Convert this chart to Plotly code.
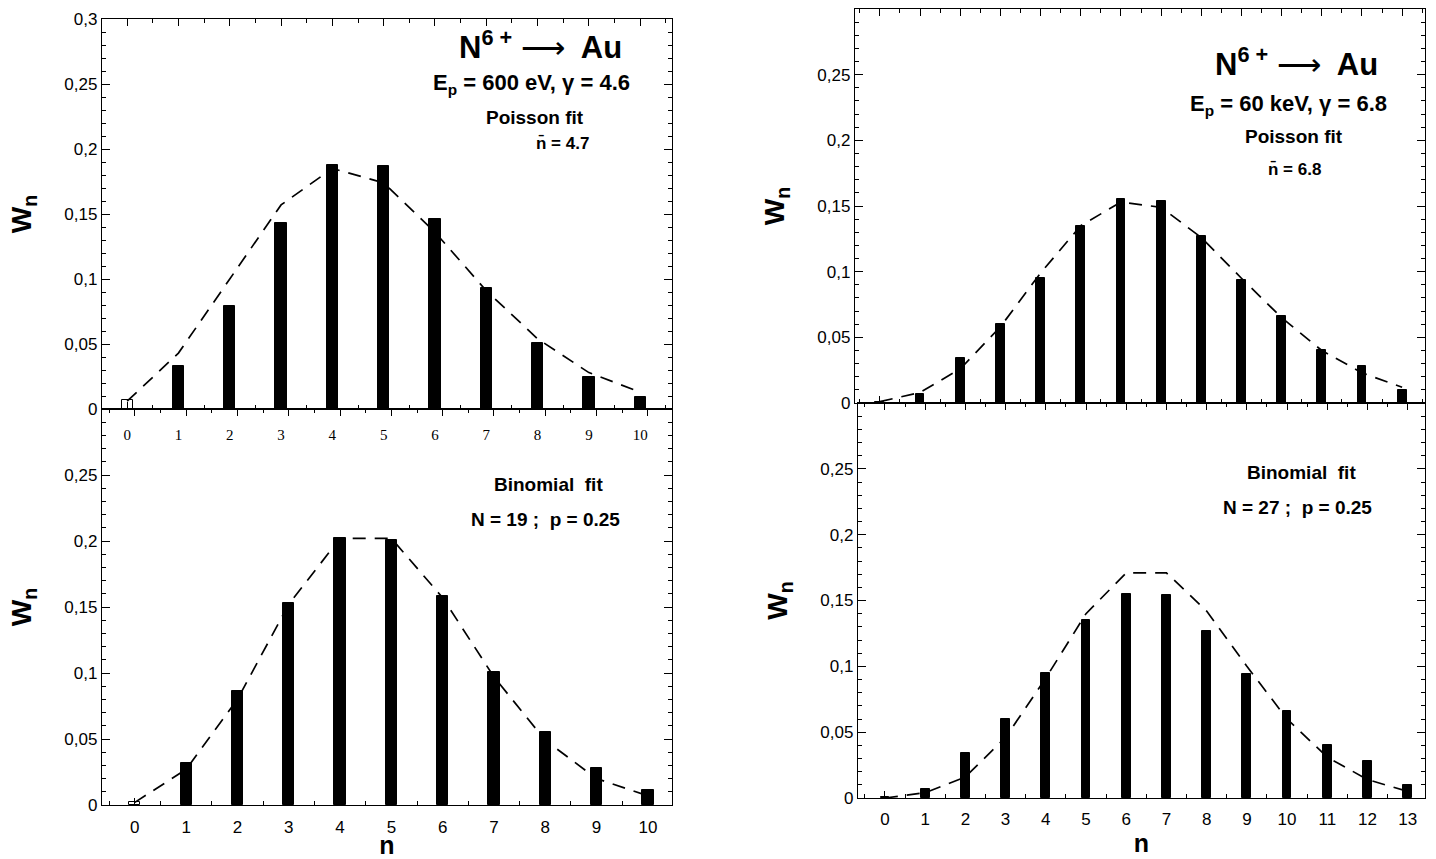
import plotly.graph_objects as go

W, H = 1436, 859

# ---------------- data ----------------
n_left = list(range(0, 11))
n_right = list(range(0, 14))

# Left column: N6+ -> Au, Ep = 600 eV
left_top_bars = [0.007, 0.033, 0.079, 0.143, 0.188, 0.187, 0.146, 0.093, 0.051, 0.025, 0.009]
left_top_fit = [0.006, 0.043, 0.100, 0.157, 0.185, 0.174, 0.136, 0.091, 0.054, 0.028, 0.013]

left_bot_bars = [0.002, 0.032, 0.086, 0.153, 0.202, 0.201, 0.158, 0.101, 0.055, 0.028, 0.011]
left_bot_fit = [0.002, 0.027, 0.080, 0.152, 0.202, 0.202, 0.157, 0.097, 0.049, 0.020, 0.007]

# Right column: N6+ -> Au, Ep = 60 keV
right_top_bars = [0.001, 0.007, 0.034, 0.060, 0.095, 0.135, 0.155, 0.154, 0.127, 0.094, 0.066, 0.040, 0.028, 0.010]
right_top_fit = [0.001, 0.008, 0.026, 0.058, 0.099, 0.135, 0.153, 0.149, 0.126, 0.095, 0.065, 0.040, 0.023, 0.012]

right_bot_bars = [0.001, 0.007, 0.034, 0.060, 0.095, 0.135, 0.155, 0.154, 0.127, 0.094, 0.066, 0.040, 0.028, 0.010]
right_bot_fit = [0.000, 0.004, 0.016, 0.046, 0.091, 0.140, 0.171, 0.171, 0.142, 0.100, 0.060, 0.031, 0.014, 0.005]

y_tickvals_full = [0, 0.05, 0.1, 0.15, 0.2, 0.25, 0.3]
y_ticktext_full = ["0", "0,05", "0,1", "0,15", "0,2", "0,25", "0,3"]
y_tickvals_short = [0, 0.05, 0.1, 0.15, 0.2, 0.25]
y_ticktext_short = ["0", "0,05", "0,1", "0,15", "0,2", "0,25"]

# ---------------- layout geometry (pixels) ----------------
def xd(a, b):
    return [a / W, b / W]

def yd(top, bottom):
    return [1 - bottom / H, 1 - top / H]

FONT = "Liberation Sans, Arial, sans-serif"

fig = go.Figure()

panels = [
    ("x", "y", n_left, left_top_bars, left_top_fit, True),
    ("x2", "y2", n_left, left_bot_bars, left_bot_fit, True),
    ("x3", "y3", n_right, right_top_bars, right_top_fit, False),
    ("x4", "y4", n_right, right_bot_bars, right_bot_fit, False),
]

for xa, ya, n, bars, fit, open_first in panels:
    fill = ["white" if (open_first and i == 0) else "black" for i in range(len(n))]
    fig.add_trace(go.Bar(
        x=n, y=bars, width=0.22, xaxis=xa, yaxis=ya,
        marker=dict(color=fill, line=dict(color="black", width=1)),
        showlegend=False,
    ))
    fig.add_trace(go.Scatter(
        x=n, y=fit, mode="lines", xaxis=xa, yaxis=ya,
        line=dict(color="black", width=1.7, dash="13px,9px"),
        showlegend=False,
    ))

common_x = dict(
    showline=True, linecolor="black", linewidth=1.3, mirror="ticks",
    ticks="inside", ticklen=7, tickcolor="black", tickwidth=1,
    dtick=1, tick0=0, showgrid=False, zeroline=False, automargin=False,
    minor=dict(ticks="inside", ticklen=4, dtick=0.5, tick0=0, tickcolor="black", showgrid=False),
)

def common_y(full):
    return dict(
        showline=True, linecolor="black", linewidth=1.3, mirror="ticks",
        ticks="inside", ticklen=8, tickcolor="black", tickwidth=1,
        range=[0, 0.3], automargin=False,
        tickvals=y_tickvals_full if full else y_tickvals_short,
        ticktext=y_ticktext_full if full else y_ticktext_short,
        showgrid=False, zeroline=False,
        tickfont=dict(family=FONT, size=17, color="black"),
        minor=dict(ticks="inside", ticklen=4, dtick=0.01, tick0=0, tickcolor="black", showgrid=False),
        title=dict(text="<b>W<sub>n</sub></b>", font=dict(family=FONT, size=28, color="black"), standoff=24),
    )

fig.update_layout(
    width=W, height=H,
    margin=dict(l=0, r=0, t=0, b=0, pad=0, autoexpand=False),
    paper_bgcolor="white", plot_bgcolor="rgba(0,0,0,0)",
    bargap=0,
    xaxis=dict(common_x, domain=xd(102, 672), range=[-0.49, 10.62], anchor="y",
               showticklabels=True, ticklabelstandoff=12,
               tickfont=dict(family="Liberation Serif, Times New Roman, serif", size=15, color="black")),
    yaxis=dict(common_y(True), domain=yd(19, 409), anchor="x"),
    xaxis2=dict(common_x, domain=xd(102, 672), range=[-0.64, 10.47], anchor="y2",
                ticklabelstandoff=6,
                tickfont=dict(family=FONT, size=17, color="black"),
                title=dict(text="<b>n</b>", font=dict(family=FONT, size=25, color="black"), standoff=8)),
    yaxis2=dict(common_y(False), domain=yd(409, 805), anchor="x2"),
    xaxis3=dict(common_x, domain=xd(855, 1425), range=[-0.62, 13.57], anchor="y3",
                showticklabels=False),
    yaxis3=dict(common_y(False), domain=yd(9, 403), anchor="x3"),
    xaxis4=dict(common_x, domain=xd(858, 1425), range=[-0.67, 13.43], anchor="y4",
                ticklabelstandoff=5,
                tickfont=dict(family=FONT, size=17, color="black"),
                title=dict(text="<b>n</b>", font=dict(family=FONT, size=25, color="black"), standoff=6)),
    yaxis4=dict(common_y(False), domain=yd(403, 798), anchor="x4"),
)

def ann(px, py, text, size, bold=True):
    fig.add_annotation(
        x=px / W, y=1 - py / H, xref="paper", yref="paper",
        text=f"<b>{text}</b>" if bold else text, showarrow=False,
        font=dict(family=FONT, size=size, color="black"),
        xanchor="center", yanchor="middle",
    )

ARROW = "<span style='font-weight:normal'>⟶</span>"

# left top
ann(540, 45, f"N<sup>6 +</sup> {ARROW}  Au", 31)
ann(531, 84, "E<sub>p</sub> = 600 eV, γ = 4.6", 22)
ann(535, 117, "Poisson fit", 19)
ann(562, 143, "n̄ = 4.7", 17)
# left bottom
ann(548, 484, "Binomial  fit", 19)
ann(545, 519, "N = 19 ;  p = 0.25", 19)
# right top
ann(1296, 62, f"N<sup>6 +</sup> {ARROW}  Au", 31)
ann(1288, 105, "E<sub>p</sub> = 60 keV, γ = 6.8", 22)
ann(1294, 137, "Poisson fit", 19)
ann(1294, 169, "n̄ = 6.8", 17)
# right bottom
ann(1301, 472, "Binomial  fit", 19)
ann(1297, 507, "N = 27 ;  p = 0.25", 19)

fig.write_html(
    "out.html",
    config={"displayModeBar": False},
    post_script="document.body.style.margin='0';document.body.style.overflow='hidden';",
)
